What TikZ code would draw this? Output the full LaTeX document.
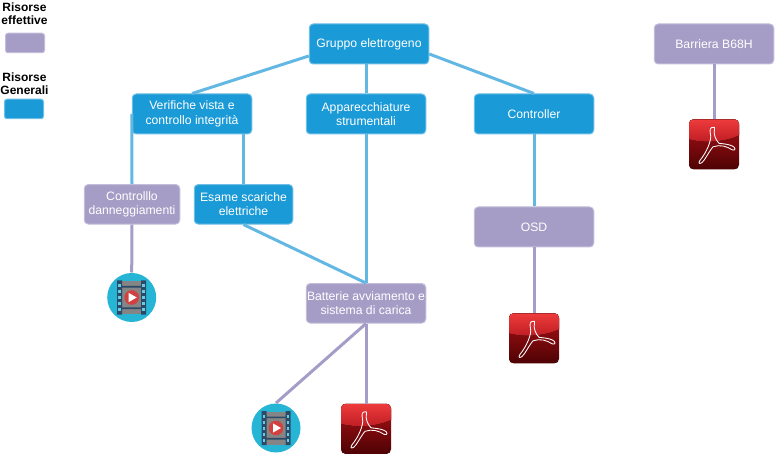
\documentclass[tikz,border=0pt]{standalone}
\usepackage{fontspec}
\setmainfont{Liberation Sans}
\definecolor{genfill}{HTML}{1A9AD6}
\definecolor{genedge}{HTML}{6EBEE6}
\definecolor{efffill}{HTML}{A59DC6}
\definecolor{effedge}{HTML}{C3BDDA}
\definecolor{genline}{HTML}{62B8E2}
\definecolor{effline}{HTML}{A59DC8}
\definecolor{filmbg}{HTML}{27B5D5}
\definecolor{filmdark}{HTML}{2B4A68}
\definecolor{filmgrey}{HTML}{858585}
\definecolor{playred}{HTML}{D2403F}
\definecolor{pdftop}{HTML}{EE3B3C}
\definecolor{pdfmid}{HTML}{BC1C22}
\definecolor{pdfband}{HTML}{AC1217}
\definecolor{pdfbot}{HTML}{4E0204}
\tikzset{
  x=1pt,y=-1pt,
  res/.style={rounded corners=4pt,align=center,text=white,font=\fontsize{12.2}{14.5}\selectfont,
    inner sep=0pt,line width=1pt,minimum height=40pt},
  gen/.style={res,fill=genfill,draw=genedge,minimum width=119.5pt},
  eff/.style={res,fill=efffill,draw=effedge,minimum width=119.5pt},
  genlink/.style={draw=genline,line width=3pt},
  efflink/.style={draw=effline,line width=3pt},
  legendtext/.style={align=center,font=\bfseries\fontsize{12}{13}\selectfont,inner sep=0pt,text=black},
  iconbox/.style={minimum size=50pt,inner sep=0pt,outer sep=0pt},
}
\newcommand{\filmicon}[3]{%
  \node[iconbox,circle] (#1) at (#2,#3) {};
  \begin{scope}[shift={(#2,#3)}]
    \fill[filmbg] (0,0) circle (24.5);
    \fill[filmgrey] (-11,-16.5) rectangle (11,16.5);
    \fill[filmdark] (-14.5,-17) rectangle (-9.5,17) (9.5,-17) rectangle (14.5,17);
    \fill[filmdark] (-11,-11.5) rectangle (11,-9.8) (-11,9.8) rectangle (11,11.5);
    \foreach \yy in {-13.5,-7.5,-1.5,4.5,10.5}{
      \fill[filmbg!70!white] (-13.3,\yy) rectangle (-10.7,\yy+3);
      \fill[filmbg!70!white] (10.7,\yy) rectangle (13.3,\yy+3);
    }
    \fill[playred] (0,0) circle (7.3);
    \fill[white] (-3,-4.6) -- (5,0) -- (-3,4.6) -- cycle;
  \end{scope}}
\newcommand{\pdficon}[3]{%
  \node[iconbox] (#1) at (#2,#3) {};
  \begin{scope}[shift={(#2-25,#3-25)}]
    \begin{scope}
      \clip[rounded corners=4.5pt] (0,0) rectangle (50,50);
      \fill[bottom color=pdfbot,top color=pdfband] (0,0) rectangle (50,50);
      \fill[top color=pdftop,bottom color=pdfmid] (0,0) -- (50,0) -- (50,16) .. controls (35,23) and (15,24) .. (0,20) -- cycle;
    \end{scope}
    \draw[white,line width=0.85pt,line join=round]
      (24.5,8) .. controls (21,7.5) and (20.5,11) .. (21.5,15)
      .. controls (23,21) and (17,34) .. (11,41)
      .. controls (8,45) and (12,45.5) .. (15,41)
      .. controls (19,35) and (21,31) .. (24,27.5)
      .. controls (31,25) and (38,27) .. (43,30.5)
      .. controls (47,32) and (47,28) .. (43,26.5)
      .. controls (38,24.5) and (33,24.5) .. (30,24)
      .. controls (27,21) and (24,15) .. (25.5,9.5)
      .. controls (26,8) and (25.5,8) .. (24.5,8) -- cycle;
  \end{scope}}
\begin{document}
\begin{tikzpicture}
\useasboundingbox (0,0) rectangle (776,454);
% legend
\node[legendtext] (legA) at (24.5,13.5) {Risorse\\effettive};
\node[eff,minimum width=39pt,minimum height=19.5pt,rounded corners=2.5pt] (legB) at (25,43) {};
\node[legendtext] (legC) at (24.5,83.5) {Risorse\\Generali};
\node[gen,minimum width=39pt,minimum height=19.5pt,rounded corners=2.5pt] (legD) at (24,109) {};
% nodes
\node[gen] (gruppo) at (369,44) {Gruppo elettrogeno};
\node[gen] (verif) at (192,114) {Verifiche vista e\\controllo integrità};
\node[gen] (appar) at (366,114) {Apparecchiature\\strumentali};
\node[gen] (ctrl) at (534,114) {Controller};
\node[eff] (barr) at (714,44) {Barriera B68H};
\node[eff,minimum width=95.5pt,minimum height=39.5pt] (dann) at (132,204.3) {Controlllo\\danneggiamenti};
\node[gen,minimum width=98.5pt,minimum height=39.5pt] (esame) at (243.5,204.3) {Esame scariche\\elettriche};
\node[eff,minimum height=39.5pt] (batt) at (366,303.3) {Batterie avviamento e\\sistema di carica};
\node[eff] (osd) at (534,227) {OSD};
% icons
\filmicon{filmA}{131.7}{297.5}
\filmicon{filmB}{276}{428}
\pdficon{pdfA}{714}{144.3}
\pdficon{pdfB}{534}{338.3}
\pdficon{pdfC}{366}{428.8}
% connectors
\path[genlink] (gruppo.west |- 0,56) -- (verif.north);
\path[genlink] (gruppo.south -| appar.north) -- (appar.north);
\path[genlink] (gruppo.east |- 0,54) -- (ctrl.north);
\path[genlink] (verif.west) -- (dann.north);
\path[genlink] (verif.south -| esame.north) -- (esame.north);
\path[genlink] (appar.south) -- (batt.north);
\path[genlink] (esame.south) -- (batt.north);
\path[genlink] (ctrl.south) -- (osd.north);
\path[efflink] (barr.south) -- (pdfA.north);
\path[efflink] (dann.south) -- (filmA.north);
\path[efflink] (osd.south) -- (pdfB.north);
\path[efflink] (batt.south) -- (filmB.north);
\path[efflink] (batt.south) -- (pdfC.north);
\end{tikzpicture}
\end{document}
